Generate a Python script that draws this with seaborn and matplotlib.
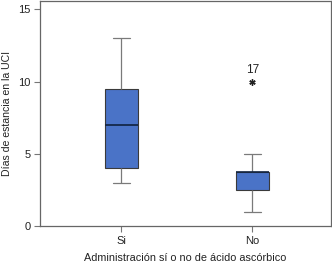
import numpy as np
import pandas as pd
import matplotlib
matplotlib.use("Agg")
import matplotlib.pyplot as plt
import seaborn as sns

si_days = [3, 3.5, 4, 6, 7, 8, 9.5, 11, 13]
no_days = [1, 2, 2.5, 3, 3.75, 3.75, 3.75, 5, 10]
groups = ["Si", "No"]
outlier_case = "17"
outlier_value = 10

df = pd.DataFrame({
    "grupo": ["Si"] * len(si_days) + ["No"] * len(no_days),
    "dias": si_days + no_days,
})

sns.set_style("white")
plt.rcParams["font.family"] = ["Liberation Sans", "DejaVu Sans"]
plt.rcParams["font.size"] = 7.5

fig = plt.figure(figsize=(3.32, 2.66), dpi=100)
ax = fig.add_axes([0.1205, 0.150, 0.877, 0.848])

sns.boxplot(
    data=df, x="grupo", y="dias", order=groups, ax=ax,
    width=0.25, color="#4a73c7", saturation=1, whis=1.5,
    boxprops=dict(edgecolor="#3a3a3a", linewidth=0.8),
    whiskerprops=dict(color="#7a7a7a", linewidth=0.9),
    capprops=dict(color="#7a7a7a", linewidth=0.9),
    medianprops=dict(color="#10223f", linewidth=1.2),
    flierprops=dict(marker=(6, 2, 0), markersize=4.5, markerfacecolor="#222222",
                    markeredgecolor="#222222", markeredgewidth=1.0),
    capwidths=0.13,
)

ax.text(1, outlier_value + 0.4, outlier_case, ha="center", va="bottom",
        fontsize=8.5, color="#222222")

ax.set_xlim(-0.62, 1.6)
ax.set_ylim(0, 15.6)
ax.set_yticks([0, 5, 10, 15])
ax.set_xlabel("Administración sí o no de ácido ascórbico", color="#222222",
              labelpad=5, fontsize=7.8)
ax.set_ylabel("Días de estancia en la UCI", color="#222222", labelpad=4,
              fontsize=7.6)

for s in ax.spines.values():
    s.set_color("#666666")
    s.set_linewidth(0.9)
ax.tick_params(axis="both", length=4, width=0.8, color="#777777",
               labelcolor="#222222", labelsize=8, direction="out",
               bottom=True, left=True, pad=3)

fig.savefig("out.png", dpi=100)
